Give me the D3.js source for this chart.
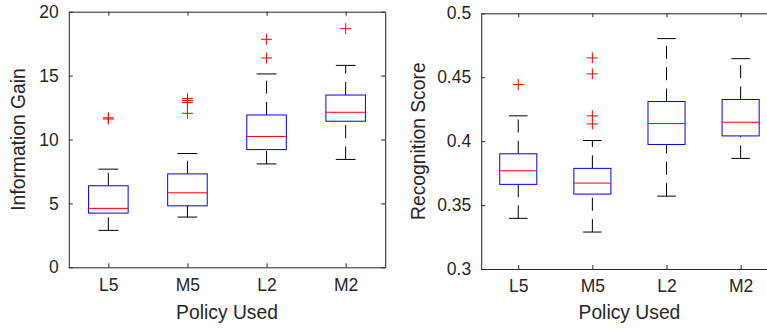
<!DOCTYPE html>
<html>
<head>
<meta charset="utf-8">
<script src="https://cdn.jsdelivr.net/npm/d3@7"></script>
<style>
  body { margin: 0; background: #fff; }
  svg { display: block; font-family: "Liberation Sans", Arial, Helvetica, sans-serif; }
  .axis text { fill: #262626; font-size: 17.5px; }
  .axis path, .axis line { stroke: #262626; }
</style>
</head>
<body>
<svg id="chart" width="767" height="329"></svg>
<script>
// policies on the x axis (same for both panels)
const categories = ['L5', 'M5', 'L2', 'M2'];

// Information Gain (left panel)
const gainTicks = [0, 5, 10, 15, 20];
const gainLow = [2.89, 3.93, 8.09, 8.44];
const gainQ1 = [4.24, 4.81, 9.21, 11.43];
const gainMedian = [4.61, 5.83, 10.23, 12.13];
const gainQ3 = [6.38, 7.31, 11.92, 13.48];
const gainHigh = [7.68, 8.9, 15.13, 15.8];
const gainOutliers = [[11.6, 11.7], [12.05, 12.9, 13.05, 13.2], [16.38, 17.84], [18.67]];

// Recognition Score (right panel)
const scoreTicks = [0.3, 0.35, 0.4, 0.45, 0.5];
const scoreLow = [0.3396, 0.3289, 0.357, 0.3865];
const scoreQ1 = [0.3662, 0.3586, 0.3974, 0.4041];
const scoreMedian = [0.3768, 0.3672, 0.4138, 0.4148];
const scoreQ3 = [0.3901, 0.3787, 0.431, 0.4326];
const scoreHigh = [0.4198, 0.4005, 0.4802, 0.4645];
const scoreOutliers = [[0.4443], [0.4135, 0.4198, 0.4526, 0.4651], [], []];

const svg = d3.select('#chart');

function drawPanel(p) {
    const x = d3.scalePoint().domain(categories).range(p.xRange).padding(0.5);
    const y = d3.scaleLinear().domain(p.yDomain).range(p.yRange);
    const step = x.step();
    const boxW = step * 0.5;
    const capW = step * 0.25;

    const g = svg.append('g');

    // axes on all four sides, ticks pointing inwards
    g.append('g').attr('class', 'axis')
        .attr('transform', `translate(${p.xRange[0]},0)`)
        .call(d3.axisLeft(y).tickValues(p.ticks).tickFormat(d => String(d))
            .tickSizeInner(-4).tickSizeOuter(0).tickPadding(10));
    g.append('g').attr('class', 'axis')
        .attr('transform', `translate(${p.xRange[1]},0)`)
        .call(d3.axisRight(y).tickValues(p.ticks).tickFormat('')
            .tickSizeInner(-4).tickSizeOuter(0));
    g.append('g').attr('class', 'axis')
        .attr('transform', `translate(0,${p.yRange[0]})`)
        .call(d3.axisBottom(x).tickSizeInner(-4).tickSizeOuter(0).tickPadding(11));
    g.append('g').attr('class', 'axis')
        .attr('transform', `translate(0,${p.yRange[1]})`)
        .call(d3.axisTop(x).tickFormat('').tickSizeInner(-4).tickSizeOuter(0));
    g.selectAll('.domain').attr('stroke', '#262626');

    const rows = categories.map((c, i) => ({
        c, low: p.low[i], q1: p.q1[i], med: p.median[i], q3: p.q3[i], high: p.high[i], out: p.outliers[i]
    }));

    const box = g.selectAll('.box').data(rows).join('g').attr('class', 'box');

    // whiskers, drawn upward so the dash pattern starts at the lower end
    box.append('line')
        .attr('x1', d => x(d.c)).attr('x2', d => x(d.c))
        .attr('y1', d => y(d.q3)).attr('y2', d => y(d.high))
        .attr('stroke', '#000').attr('stroke-dasharray', '13,8.3');
    box.append('line')
        .attr('x1', d => x(d.c)).attr('x2', d => x(d.c))
        .attr('y1', d => y(d.low)).attr('y2', d => y(d.q1))
        .attr('stroke', '#000').attr('stroke-dasharray', '13,8.3');

    // whisker caps
    box.append('line')
        .attr('x1', d => x(d.c) - capW / 2).attr('x2', d => x(d.c) + capW / 2)
        .attr('y1', d => y(d.high)).attr('y2', d => y(d.high))
        .attr('stroke', '#000');
    box.append('line')
        .attr('x1', d => x(d.c) - capW / 2).attr('x2', d => x(d.c) + capW / 2)
        .attr('y1', d => y(d.low)).attr('y2', d => y(d.low))
        .attr('stroke', '#000');

    // boxes
    box.append('rect')
        .attr('x', d => x(d.c) - boxW / 2)
        .attr('y', d => y(d.q3))
        .attr('width', boxW)
        .attr('height', d => y(d.q1) - y(d.q3))
        .attr('fill', 'none')
        .attr('stroke', '#0000ff');

    // medians
    box.append('line')
        .attr('x1', d => x(d.c) - boxW / 2).attr('x2', d => x(d.c) + boxW / 2)
        .attr('y1', d => y(d.med)).attr('y2', d => y(d.med))
        .attr('stroke', '#ff0000');

    // outliers as red crosses
    const pts = rows.flatMap(d => d.out.map(v => ({ c: d.c, v })));
    const cross = g.selectAll('.out').data(pts).join('path')
        .attr('class', 'out')
        .attr('d', d => {
            const cx = x(d.c), cy = y(d.v), r = 5.5;
            return `M${cx - r},${cy}H${cx + r}M${cx},${cy - r}V${cy + r}`;
        })
        .attr('stroke', '#ff0000')
        .attr('fill', 'none');

    // axis labels
    svg.append('text')
        .attr('x', (p.xRange[0] + p.xRange[1]) / 2)
        .attr('y', 319)
        .attr('text-anchor', 'middle')
        .attr('fill', '#262626')
        .style('font-size', '19.3px')
        .text('Policy Used');

    svg.append('text')
        .attr('transform', `translate(${p.yLabelX},${(p.yRange[0] + p.yRange[1]) / 2}) rotate(-90)`)
        .attr('text-anchor', 'middle')
        .attr('fill', '#262626')
        .style('font-size', '19.3px')
        .text(p.yLabel);
}

drawPanel({
    xRange: [68.8, 385.2], yRange: [267.3, 11.7], yDomain: [0, 20], ticks: gainTicks,
    low: gainLow, q1: gainQ1, median: gainMedian, q3: gainQ3, high: gainHigh, outliers: gainOutliers,
    yLabel: 'Information Gain', yLabelX: 25
});

drawPanel({
    xRange: [481.2, 777.7], yRange: [269, 13.3], yDomain: [0.3, 0.5], ticks: scoreTicks,
    low: scoreLow, q1: scoreQ1, median: scoreMedian, q3: scoreQ3, high: scoreHigh, outliers: scoreOutliers,
    yLabel: 'Recognition Score', yLabelX: 425
});
</script>
</body>
</html>
